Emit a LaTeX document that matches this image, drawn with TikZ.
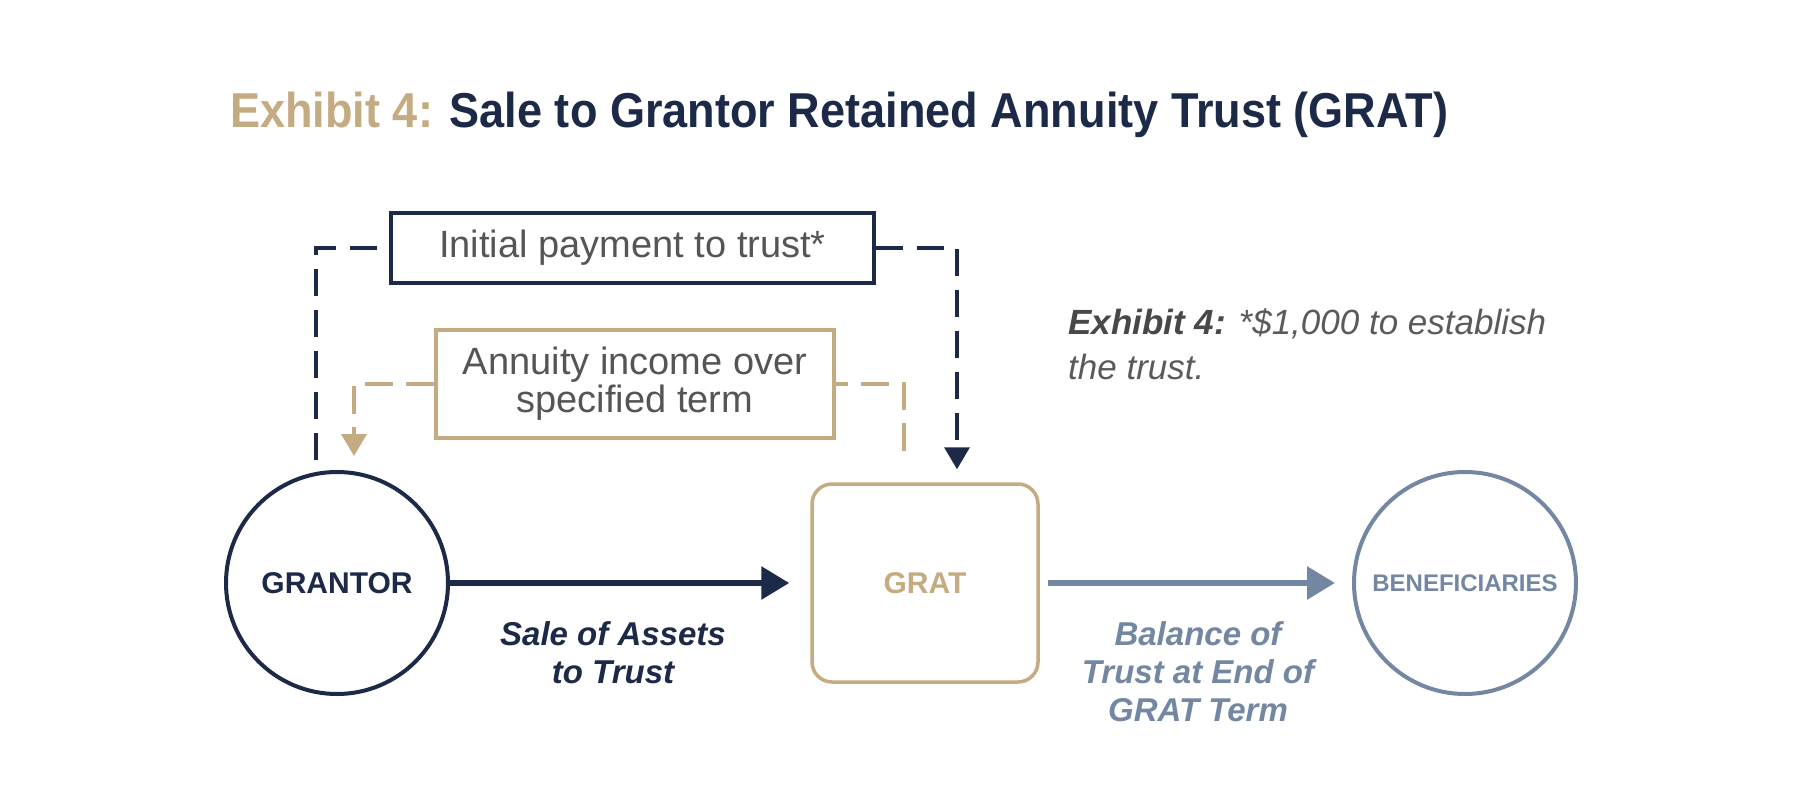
\documentclass[tikz,border=0pt]{standalone}
\usepackage{fontspec}
\setmainfont{Liberation Sans}
\newfontfamily\titlefont[FakeStretch=0.92]{Liberation Sans}
\usetikzlibrary{arrows.meta}
\definecolor{navy}{HTML}{1C2A48}
\definecolor{tan}{HTML}{C5AB82}
\definecolor{slate}{HTML}{7387A3}
\definecolor{txtgray}{HTML}{555555}
\definecolor{notegray}{HTML}{5A5A5A}
\definecolor{notedark}{HTML}{484848}
\tikzset{
  circnode/.style={circle, line width=4pt, minimum size=222pt, inner sep=0pt},
  labelbox/.style={rectangle, line width=4.5pt, inner sep=0pt, text=txtgray,
    font={\fontsize{38}{38}\selectfont}, align=center},
  navydash/.style={navy, line width=3.5pt, dash pattern=on 27pt off 14pt},
  tandash/.style={tan, line width=4pt, dash pattern=on 28pt off 13pt},
  bigarrow/.style={line width=6pt, -{Triangle[length=28pt,width=32pt]}},
  smallhead/.style={-{Triangle[length=22pt,width=25pt]}},
  flowlabel/.style={font={\fontsize{33}{38}\selectfont\bfseries\itshape},
    align=center, inner sep=0pt, anchor=north},
}
\begin{document}
\begin{tikzpicture}[x=1pt,y=-1pt]
  \fill[white] (0,0) rectangle (1800,800);
  \useasboundingbox (0,0) rectangle (1800,800);

  % title
  \node[anchor=base west, inner sep=0pt,
    font={\titlefont\fontsize{49}{49}\selectfont\bfseries}] (title) at (230,127)
    {\textcolor{tan}{Exhibit 4:} \textcolor{navy}{Sale to Grantor Retained Annuity Trust (GRAT)}};

  % main nodes
  \node[circnode, draw=navy, text=navy, font={\fontsize{30}{30}\selectfont\bfseries}]
    (grantor) at (337,583) {GRANTOR};
  \node[rectangle, rounded corners=20pt, draw=tan, line width=3.5pt,
    minimum width=226pt, minimum height=198pt, inner sep=0pt, text=tan,
    font={\fontsize{30}{30}\selectfont\bfseries}] (grat) at (925,583) {GRAT};
  \node[circnode, draw=slate, text=slate, font={\fontsize{24}{24}\selectfont\bfseries}]
    (ben) at (1465,583) {BENEFICIARIES};

  % label boxes
  \node[labelbox, draw=navy, minimum width=483pt, minimum height=70pt]
    (init) at (632.5,248) {Initial payment to trust*};
  \node[labelbox, draw=tan, minimum width=398pt, minimum height=108pt]
    (annu) at (635,384) {Annuity income over\\specified term};

  % dashed connectors
  \draw[navydash] ([xshift=-21pt,yshift=10pt]grantor.north) |- (init.west);
  \draw[navydash, smallhead] (init.east) -| ([xshift=32pt,yshift=13pt]grat.north);
  \draw[tandash] ([xshift=-21pt,yshift=31pt]grat.north) |- (annu.east);
  \draw[tandash, smallhead] (annu.west) -| ([xshift=17pt,yshift=14pt]grantor.north);

  % main arrows
  \draw[navy, bigarrow] (grantor.east) -- ([xshift=-21pt]grat.west);
  \draw[slate, bigarrow] ([xshift=8pt]grat.east) -- ([xshift=-17pt]ben.west);

  % arrow labels
  \node[flowlabel, text=navy] (sale) at (613,621) {Sale of Assets\\to Trust};
  \node[flowlabel, text=slate] (bal) at (1198,621) {Balance of\\Trust at End of\\GRAT Term};

  % footnote
  \node[anchor=north west, inner sep=0pt, align=left, text=notegray,
    font={\fontsize{35}{45}\selectfont\itshape}] (note) at (1068,308)
    {{\color{notedark}\bfseries Exhibit 4:} *\$1,000 to establish\\the trust.};
\end{tikzpicture}
\end{document}
